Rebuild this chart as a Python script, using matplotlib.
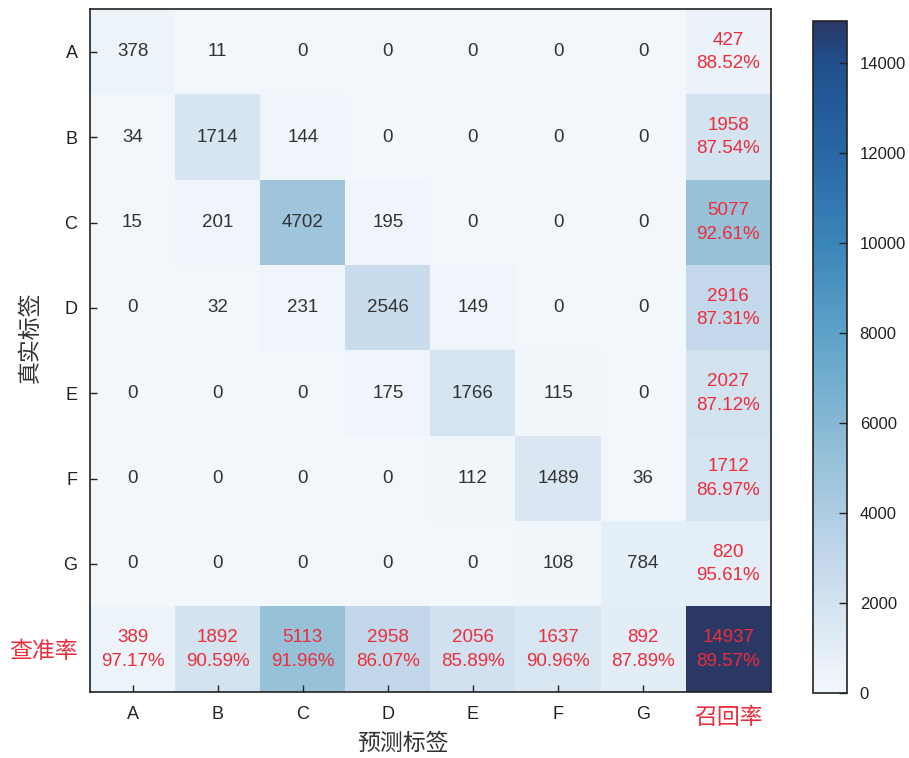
import numpy as np
import matplotlib
matplotlib.use('Agg')
import matplotlib.pyplot as plt
from matplotlib.colors import LinearSegmentedColormap

plt.rcParams['font.family'] = ['Liberation Sans', 'Noto Sans CJK SC', 'DejaVu Sans']

# 类别与混淆矩阵
labels = ['A', 'B', 'C', 'D', 'E', 'F', 'G']
conf = [
    [378, 11, 0, 0, 0, 0, 0],
    [34, 1714, 144, 0, 0, 0, 0],
    [15, 201, 4702, 195, 0, 0, 0],
    [0, 32, 231, 2546, 149, 0, 0],
    [0, 0, 0, 175, 1766, 115, 0],
    [0, 0, 0, 0, 112, 1489, 36],
    [0, 0, 0, 0, 0, 108, 784],
]
# 召回率列
recall_counts = [427, 1958, 5077, 2916, 2027, 1712, 820]
recall_pct = ['88.52%', '87.54%', '92.61%', '87.31%', '87.12%', '86.97%', '95.61%']
# 查准率行
prec_counts = [389, 1892, 5113, 2958, 2056, 1637, 892]
prec_pct = ['97.17%', '90.59%', '91.96%', '86.07%', '85.89%', '90.96%', '87.89%']
total_count = 14937
total_pct = '89.57%'

# 拼成 8x8 矩阵
n = len(labels)
mat = np.zeros((n + 1, n + 1))
mat[:n, :n] = conf
mat[:n, n] = recall_counts
mat[n, :n] = prec_counts
mat[n, n] = total_count

cmap = LinearSegmentedColormap.from_list('cm', [
    (0.0, '#f2f7fc'),
    (0.13, '#d3e3f0'),
    (0.2, '#c2d7ea'),
    (0.34, '#98c2d9'),
    (0.53, '#5fa3c9'),
    (0.67, '#3a85b9'),
    (0.8, '#2a68a6'),
    (0.94, '#1f4f8c'),
    (1.0, '#2b3866'),
])

red = '#ec2d3a'
txt = '#333333'

fig = plt.figure(figsize=(9.09, 7.58), dpi=100)
ax = fig.add_axes([0.099, 0.087, 0.749, 0.901])
cax = fig.add_axes([0.894, 0.086, 0.038, 0.886])

im = ax.imshow(mat, cmap=cmap, vmin=0, vmax=total_count, aspect='auto')

fs = 13.5
for i in range(n + 1):
    for j in range(n + 1):
        if i < n and j < n:
            ax.text(j, i, str(conf[i][j]), ha='center', va='center', fontsize=fs, color=txt)
        elif i < n:
            ax.text(j, i, f'{recall_counts[i]}\n{recall_pct[i]}', ha='center', va='center',
                    fontsize=fs, color=red, linespacing=1.5)
        elif j < n:
            ax.text(j, i, f'{prec_counts[j]}\n{prec_pct[j]}', ha='center', va='center',
                    fontsize=fs, color=red, linespacing=1.5)
        else:
            ax.text(j, i, f'{total_count}\n{total_pct}', ha='center', va='center',
                    fontsize=fs, color=red, linespacing=1.5)

ax.set_xticks(range(n + 1))
ax.set_yticks(range(n + 1))
ax.set_xticklabels(labels + ['召回率'])
ax.set_yticklabels(labels + ['查准率'])
ax.tick_params(direction='in', length=5, width=1, labelsize=13, colors='#222222')
ax.tick_params(axis='y', pad=9)
ax.tick_params(axis='x', pad=10)
ax.get_xticklabels()[-1].set_color(red)
ax.get_xticklabels()[-1].set_fontsize(16.5)
ax.get_yticklabels()[-1].set_color(red)
ax.get_yticklabels()[-1].set_fontsize(16.5)
ax.xaxis.get_major_ticks()[-1].tick1line.set_visible(False)
ax.yaxis.get_major_ticks()[-1].tick1line.set_visible(False)
for s in ax.spines.values():
    s.set_color('#222222')
    s.set_linewidth(1.2)

ax.set_xlabel('预测标签', fontsize=16.5, color='#333333')
ax.set_ylabel('真实标签', fontsize=16.5, color='#333333')
ax.xaxis.set_label_coords(0.46, -0.058)
ax.yaxis.set_label_coords(-0.071, 0.52)

cb = fig.colorbar(im, cax=cax, ticks=range(0, 15000, 2000))
cb.ax.tick_params(labelsize=12, direction='in', length=6, width=1, colors='#222222', pad=9)
cb.outline.set_edgecolor('#222222')
cb.outline.set_linewidth(1.2)

fig.savefig('out.png', dpi=100)
